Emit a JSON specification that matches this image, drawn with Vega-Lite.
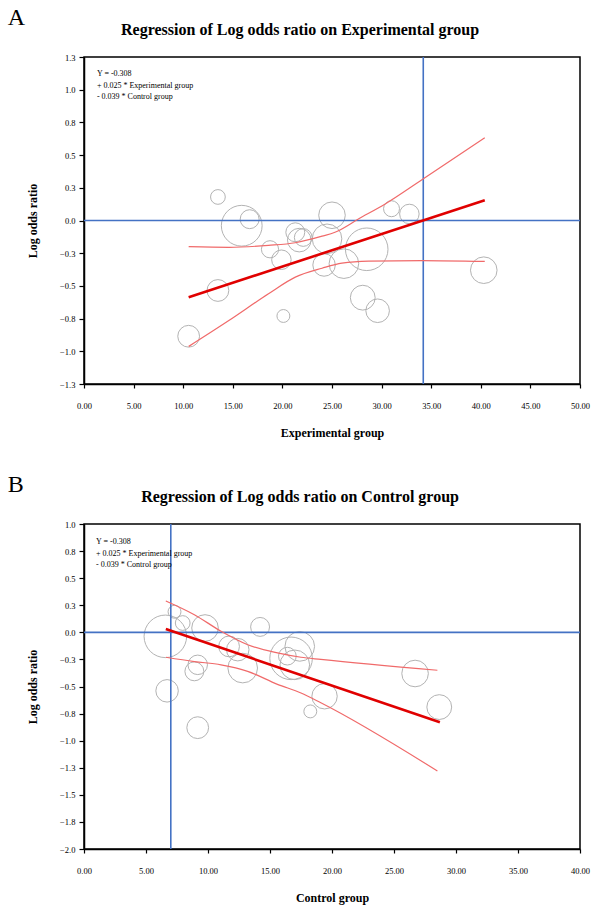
{
  "$schema": "https://vega.github.io/schema/vega-lite/v6.json",
  "padding": {"left": 7, "top": 6, "right": 0, "bottom": 0},
  "autosize": {"type": "pad"},
  "spacing": 33,
  "background": "white",
  "config": {
    "font": "Liberation Serif",
    "view": {"stroke": "black", "strokeWidth": 1.5},
    "axis": {
      "grid": false,
      "domainColor": "black",
      "domainWidth": 1.5,
      "tickColor": "black",
      "tickWidth": 1.2,
      "labelColor": "black",
      "titleColor": "black",
      "labelFont": "Liberation Serif",
      "titleFont": "Liberation Serif",
      "labelFontSize": 8.5,
      "titleFontSize": 12,
      "titleFontWeight": "bold",
      "labelFlush": false,
      "labelOverlap": false,
      "tickCount": 30
    },
    "axisX": {"tickSize": 4, "labelPadding": 13, "titlePadding": 18},
    "axisY": {"tickSize": 5, "labelPadding": 4, "titlePadding": 20},
    "title": {"font": "Liberation Serif", "color": "black"}
  },
  "datasets": {
    "studiesA": [
      {"exp": 13.5, "logOR": 0.18, "weight": 69},
      {"exp": 15.9, "logOR": -0.04, "weight": 529},
      {"exp": 16.7, "logOR": 0.01, "weight": 114},
      {"exp": 18.75, "logOR": -0.22, "weight": 94},
      {"exp": 19.9, "logOR": -0.3, "weight": 121},
      {"exp": 21.3, "logOR": -0.09, "weight": 114},
      {"exp": 21.7, "logOR": -0.15, "weight": 177},
      {"exp": 13.5, "logOR": -0.535, "weight": 151},
      {"exp": 20.1, "logOR": -0.73, "weight": 53},
      {"exp": 10.55, "logOR": -0.885, "weight": 151},
      {"exp": 25.0, "logOR": 0.04, "weight": 225},
      {"exp": 31.0, "logOR": 0.09, "weight": 81},
      {"exp": 32.8, "logOR": 0.05, "weight": 121},
      {"exp": 22.1, "logOR": -0.13, "weight": 100},
      {"exp": 24.5, "logOR": -0.14, "weight": 279},
      {"exp": 24.2, "logOR": -0.34, "weight": 161},
      {"exp": 26.2, "logOR": -0.33, "weight": 279},
      {"exp": 28.5, "logOR": -0.22, "weight": 576},
      {"exp": 28.1, "logOR": -0.59, "weight": 196},
      {"exp": 29.6, "logOR": -0.69, "weight": 177},
      {"exp": 40.3, "logOR": -0.38, "weight": 225}
    ],
    "studiesB": [
      {"ctrl": 6.56, "logOR": -0.037, "weight": 576},
      {"ctrl": 7.3, "logOR": 0.19, "weight": 53},
      {"ctrl": 7.96, "logOR": 0.086, "weight": 69},
      {"ctrl": 9.76, "logOR": 0.04, "weight": 225},
      {"ctrl": 9.17, "logOR": -0.3, "weight": 121},
      {"ctrl": 8.9, "logOR": -0.36, "weight": 114},
      {"ctrl": 6.7, "logOR": -0.54, "weight": 161},
      {"ctrl": 9.17, "logOR": -0.88, "weight": 151},
      {"ctrl": 14.2, "logOR": 0.05, "weight": 114},
      {"ctrl": 11.7, "logOR": -0.13, "weight": 137},
      {"ctrl": 12.8, "logOR": -0.33, "weight": 279},
      {"ctrl": 12.4, "logOR": -0.16, "weight": 161},
      {"ctrl": 16.7, "logOR": -0.24, "weight": 576},
      {"ctrl": 17.4, "logOR": -0.13, "weight": 279},
      {"ctrl": 16.4, "logOR": -0.22, "weight": 100},
      {"ctrl": 17.0, "logOR": -0.3, "weight": 279},
      {"ctrl": 18.25, "logOR": -0.73, "weight": 53},
      {"ctrl": 19.4, "logOR": -0.59, "weight": 205},
      {"ctrl": 26.7, "logOR": -0.38, "weight": 225},
      {"ctrl": 28.65, "logOR": -0.69, "weight": 196}
    ],
    "fitA": [
      {"x": 10.55, "y": -0.586, "series": "fit"},
      {"x": 40.4, "y": 0.154, "series": "fit"},
      {"x": 10.55, "y": -0.2, "series": "upper"},
      {"x": 14.6, "y": -0.205, "series": "upper"},
      {"x": 18.6, "y": -0.19, "series": "upper"},
      {"x": 21.3, "y": -0.17, "series": "upper"},
      {"x": 24.0, "y": -0.12, "series": "upper"},
      {"x": 25.3, "y": -0.09, "series": "upper"},
      {"x": 27.7, "y": 0.013, "series": "upper"},
      {"x": 30.4, "y": 0.128, "series": "upper"},
      {"x": 34.1, "y": 0.313, "series": "upper"},
      {"x": 40.4, "y": 0.632, "series": "upper"},
      {"x": 10.55, "y": -0.963, "series": "lower"},
      {"x": 14.6, "y": -0.765, "series": "lower"},
      {"x": 18.6, "y": -0.56, "series": "lower"},
      {"x": 21.3, "y": -0.433, "series": "lower"},
      {"x": 24.0, "y": -0.365, "series": "lower"},
      {"x": 26.0, "y": -0.326, "series": "lower"},
      {"x": 28.7, "y": -0.31, "series": "lower"},
      {"x": 34.1, "y": -0.306, "series": "lower"},
      {"x": 40.4, "y": -0.313, "series": "lower"}
    ],
    "fitB": [
      {"x": 6.6, "y": 0.03, "series": "fit"},
      {"x": 28.7, "y": -0.83, "series": "fit"},
      {"x": 6.6, "y": 0.29, "series": "upper"},
      {"x": 8.9, "y": 0.163, "series": "upper"},
      {"x": 11.05, "y": 0.01, "series": "upper"},
      {"x": 13.2, "y": -0.114, "series": "upper"},
      {"x": 15.6, "y": -0.19, "series": "upper"},
      {"x": 17.5, "y": -0.23, "series": "upper"},
      {"x": 19.1, "y": -0.25, "series": "upper"},
      {"x": 28.5, "y": -0.35, "series": "upper"},
      {"x": 6.6, "y": -0.23, "series": "lower"},
      {"x": 8.9, "y": -0.27, "series": "lower"},
      {"x": 11.05, "y": -0.3, "series": "lower"},
      {"x": 13.2, "y": -0.36, "series": "lower"},
      {"x": 15.6, "y": -0.48, "series": "lower"},
      {"x": 17.5, "y": -0.56, "series": "lower"},
      {"x": 19.1, "y": -0.65, "series": "lower"},
      {"x": 28.5, "y": -1.28, "series": "lower"}
    ]
  },
  "vconcat": [
    {
      "title": {"text": "A", "anchor": "start", "fontSize": 24, "fontWeight": "normal", "offset": -9, "dx": -18},
      "vconcat": [
        {
          "width": 496,
          "height": 327,
          "title": {"text": "Regression of Log odds ratio on Experimental group", "fontSize": 16, "fontWeight": "bold", "anchor": "middle", "frame": "bounds", "offset": 15, "dx": -8},
          "layer": [
            {
              "data": {"name": "studiesA"},
              "mark": {"type": "point", "shape": "circle", "filled": false, "stroke": "#b3b3b3", "strokeWidth": 1, "opacity": 1},
              "encoding": {
                "x": {"field": "exp", "type": "quantitative", "title": "Experimental group",
                      "scale": {"domain": [0, 50], "nice": false},
                      "axis": {"values": [0, 5, 10, 15, 20, 25, 30, 35, 40, 45, 50], "format": ".2f"}},
                "y": {"field": "logOR", "type": "quantitative", "title": "Log odds ratio",
                      "scale": {"domain": [-1.25, 1.25], "nice": false, "zero": false},
                      "axis": {"values": [-1.25, -1, -0.75, -0.5, -0.25, 0, 0.25, 0.5, 0.75, 1, 1.25], "format": ".1f"}},
                "size": {"field": "weight", "type": "quantitative", "scale": {"domain": [0, 600], "range": [0, 1885]}, "legend": null}
              }
            },
            {
              "data": {"values": [{"ref": 0}]},
              "mark": {"type": "rule", "color": "#4472c4", "strokeWidth": 1.6},
              "encoding": {"y": {"field": "ref", "type": "quantitative"}}
            },
            {
              "data": {"values": [{"ref": 34.2}]},
              "mark": {"type": "rule", "color": "#4472c4", "strokeWidth": 1.6},
              "encoding": {"x": {"field": "ref", "type": "quantitative"}}
            },
            {
              "data": {"name": "fitA"},
              "transform": [{"filter": "datum.series !== 'fit'"}],
              "mark": {"type": "line", "color": "#f06a6a", "strokeWidth": 1.2, "interpolate": "monotone"},
              "encoding": {
                "x": {"field": "x", "type": "quantitative"},
                "y": {"field": "y", "type": "quantitative"},
                "detail": {"field": "series"}
              }
            },
            {
              "data": {"name": "fitA"},
              "transform": [{"filter": "datum.series === 'fit'"}],
              "mark": {"type": "line", "color": "#e00000", "strokeWidth": 2.6},
              "encoding": {
                "x": {"field": "x", "type": "quantitative"},
                "y": {"field": "y", "type": "quantitative"}
              }
            },
            {
              "data": {"values": [{"eq": ["Y = -0.308", "+ 0.025 * Experimental group", "- 0.039 * Control group"]}]},
              "mark": {"type": "text", "align": "left", "baseline": "top", "fontSize": 8, "lineHeight": 11.5, "color": "black"},
              "encoding": {
                "x": {"datum": 1.3},
                "y": {"datum": 1.15},
                "text": {"field": "eq"}
              }
            }
          ]
        }
      ]
    },
    {
      "title": {"text": "B", "anchor": "start", "fontSize": 24, "fontWeight": "normal", "offset": -9, "dx": -18},
      "vconcat": [
        {
          "width": 496,
          "height": 325,
          "title": {"text": "Regression of Log odds ratio on Control group", "fontSize": 16, "fontWeight": "bold", "anchor": "middle", "frame": "bounds", "offset": 15, "dx": -8},
          "layer": [
            {
              "data": {"name": "studiesB"},
              "mark": {"type": "point", "shape": "circle", "filled": false, "stroke": "#b3b3b3", "strokeWidth": 1, "opacity": 1},
              "encoding": {
                "x": {"field": "ctrl", "type": "quantitative", "title": "Control group",
                      "scale": {"domain": [0, 40], "nice": false},
                      "axis": {"values": [0, 5, 10, 15, 20, 25, 30, 35, 40], "format": ".2f"}},
                "y": {"field": "logOR", "type": "quantitative", "title": "Log odds ratio",
                      "scale": {"domain": [-2, 1], "nice": false, "zero": false},
                      "axis": {"values": [-2, -1.75, -1.5, -1.25, -1, -0.75, -0.5, -0.25, 0, 0.25, 0.5, 0.75, 1], "format": ".1f"}},
                "size": {"field": "weight", "type": "quantitative", "scale": {"domain": [0, 600], "range": [0, 1885]}, "legend": null}
              }
            },
            {
              "data": {"values": [{"ref": 0}]},
              "mark": {"type": "rule", "color": "#4472c4", "strokeWidth": 1.6},
              "encoding": {"y": {"field": "ref", "type": "quantitative"}}
            },
            {
              "data": {"values": [{"ref": 7.0}]},
              "mark": {"type": "rule", "color": "#4472c4", "strokeWidth": 1.6},
              "encoding": {"x": {"field": "ref", "type": "quantitative"}}
            },
            {
              "data": {"name": "fitB"},
              "transform": [{"filter": "datum.series !== 'fit'"}],
              "mark": {"type": "line", "color": "#f06a6a", "strokeWidth": 1.2, "interpolate": "monotone"},
              "encoding": {
                "x": {"field": "x", "type": "quantitative"},
                "y": {"field": "y", "type": "quantitative"},
                "detail": {"field": "series"}
              }
            },
            {
              "data": {"name": "fitB"},
              "transform": [{"filter": "datum.series === 'fit'"}],
              "mark": {"type": "line", "color": "#e00000", "strokeWidth": 2.6},
              "encoding": {
                "x": {"field": "x", "type": "quantitative"},
                "y": {"field": "y", "type": "quantitative"}
              }
            },
            {
              "data": {"values": [{"eq": ["Y = -0.308", "+ 0.025 * Experimental group", "- 0.039 * Control group"]}]},
              "mark": {"type": "text", "align": "left", "baseline": "top", "fontSize": 8, "lineHeight": 11.5, "color": "black"},
              "encoding": {
                "x": {"datum": 0.97},
                "y": {"datum": 0.87},
                "text": {"field": "eq"}
              }
            }
          ]
        }
      ]
    }
  ]
}
